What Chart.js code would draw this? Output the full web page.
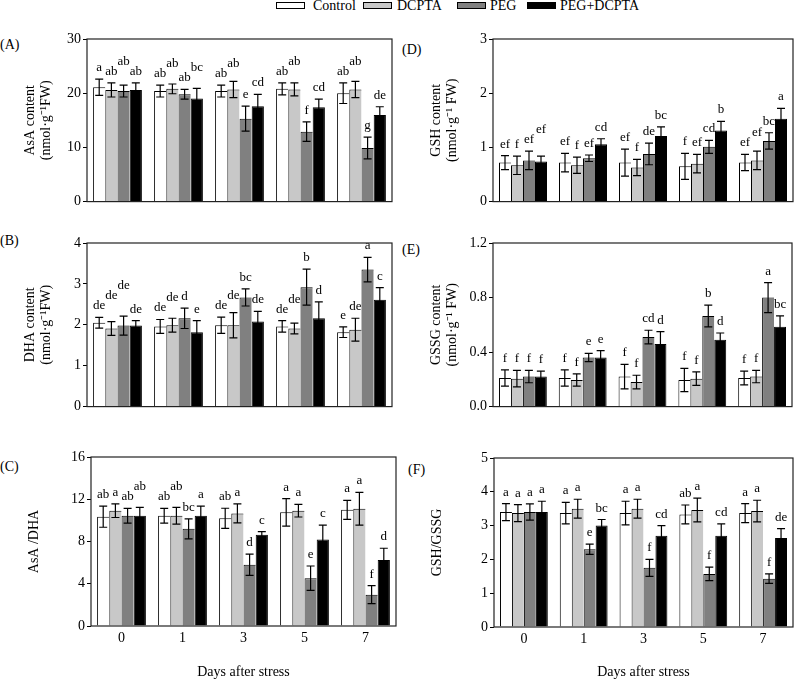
<!DOCTYPE html>
<html><head><meta charset="utf-8">
<script src="https://cdn.jsdelivr.net/npm/chart.js@4.4.1/dist/chart.umd.min.js"></script>
<style>
body{margin:0;background:#fff;width:799px;height:681px;position:relative;overflow:hidden;font-family:"Liberation Serif","Times New Roman",serif;color:#000}
canvas{position:absolute}
.lab{position:absolute;font-size:14px;line-height:14px;white-space:nowrap}
.lg{position:absolute;top:2px;width:27px;height:5px;border:1px solid #000}
</style></head><body>
<div class="lg" style="left:276px;background:#ffffff"></div><div class="lab" style="left:313px;top:-1px">Control</div>
<div class="lg" style="left:363px;background:#c8c8c8"></div><div class="lab" style="left:397px;top:-1px">DCPTA</div>
<div class="lg" style="left:457px;background:#808080"></div><div class="lab" style="left:490px;top:-1px">PEG</div>
<div class="lg" style="left:527px;background:#000000"></div><div class="lab" style="left:560px;top:-1px">PEG+DCPTA</div>
<div class="lab" style="left:0px;top:38px">(A)</div>
<div class="lab" style="left:0px;top:234px">(B)</div>
<div class="lab" style="left:0px;top:460px">(C)</div>
<div class="lab" style="left:402px;top:43px">(D)</div>
<div class="lab" style="left:402px;top:243px">(E)</div>
<div class="lab" style="left:408px;top:463px">(F)</div>
<script>
// ---- data ----
const days = ['0','1','3','5','7'];
const seriesNames = ['Control','DCPTA','PEG','PEG+DCPTA'];

// (A) AsA content
const asaMean = [[21.1,20.4,20.4,20.8,20.0],[20.6,20.8,20.7,20.7,20.7],[20.4,19.8,15.3,12.9,9.9],[20.6,19.0,17.6,17.4,16.0]];
const asaErr  = [[1.5,1.1,1.1,1.1,1.9],[1.3,0.9,1.5,1.2,1.5],[1.1,0.9,2.3,1.8,2.0],[1.3,1.9,2.2,1.5,1.5]];
const asaSig  = [['a','ab','ab','ab','ab'],['ab','ab','ab','ab','ab'],['ab','ab','e','f','g'],['ab','bc','cd','cd','de']];
// (B) DHA content
const dhaMean = [[2.05,1.96,1.99,1.96,1.82],[1.91,1.99,1.99,1.91,1.88],[1.98,2.16,2.67,2.92,3.35],[1.98,1.82,2.08,2.16,2.61]];
const dhaErr  = [[0.13,0.17,0.2,0.14,0.13],[0.17,0.17,0.31,0.13,0.28],[0.23,0.25,0.21,0.44,0.3],[0.12,0.28,0.25,0.4,0.3]];
const dhaSig  = [['de','de','de','de','e'],['de','de','de','de','de'],['de','d','bc','b','a'],['de','e','de','d','c']];
// (C) AsA/DHA
const ratioAMean = [[10.35,10.44,10.2,10.76,11.0],[10.92,10.44,10.66,10.92,11.1],[10.44,9.2,5.8,4.53,2.97],[10.44,10.44,8.64,8.2,6.26]];
const ratioAErr  = [[1.0,0.7,0.95,1.3,0.9],[0.65,0.8,0.9,0.6,1.55],[0.7,0.95,1.0,1.15,0.85],[0.8,0.9,0.3,1.35,1.1]];
const ratioASig  = [['ab','ab','ab','a','a'],['a','ab','a','a','a'],['ab','bc','d','e','f'],['ab','a','c','c','d']];
// (D) GSH content
const gshMean = [[0.72,0.72,0.72,0.65,0.72],[0.67,0.67,0.63,0.70,0.76],[0.76,0.80,0.88,1.01,1.12],[0.74,1.06,1.21,1.31,1.53]];
const gshErr  = [[0.13,0.17,0.25,0.24,0.15],[0.17,0.15,0.15,0.17,0.17],[0.17,0.06,0.2,0.12,0.15],[0.1,0.1,0.17,0.17,0.19]];
const gshSig  = [['ef','ef','ef','f','ef'],['f','f','f','ef','ef'],['ef','ef','de','cd','bc'],['ef','cd','bc','b','a']];
// (E) GSSG content
const gssgMean = [[0.21,0.21,0.22,0.195,0.21],[0.205,0.195,0.18,0.205,0.22],[0.22,0.36,0.51,0.665,0.80],[0.22,0.36,0.46,0.49,0.585]];
const gssgErr  = [[0.06,0.06,0.09,0.085,0.05],[0.06,0.045,0.05,0.05,0.045],[0.045,0.03,0.05,0.08,0.11],[0.04,0.05,0.09,0.05,0.08]];
const gssgSig  = [['f','f','f','f','f'],['f','f','f','f','f'],['f','e','cd','b','a'],['f','e','d','d','bc']];
// (F) GSH/GSSG
const ratioGMean = [[3.40,3.37,3.37,3.33,3.37],[3.37,3.50,3.50,3.46,3.43],[3.40,2.30,1.75,1.57,1.43],[3.40,3.00,2.70,2.70,2.63]];
const ratioGErr  = [[0.25,0.32,0.35,0.28,0.28],[0.25,0.28,0.28,0.35,0.32],[0.24,0.15,0.25,0.2,0.14],[0.32,0.18,0.3,0.35,0.28]];
const ratioGSig  = [['a','a','a','ab','a'],['a','a','a','a','a'],['a','e','f','f','f'],['a','bc','cd','cd','de']];

// ---- styles ----
const seriesColors = ['#ffffff','#c8c8c8','#808080','#000000'];
const FONT = '"Liberation Serif","Times New Roman",serif';
Chart.defaults.font.family = FONT;
Chart.defaults.color = '#000';

const errLetterPlugin = {
  id: 'errLetters',
  afterDatasetsDraw(chart, args, opts) {
    const ctx = chart.ctx, y = chart.scales.y;
    const errs = opts.errors, sigs = opts.letters;
    ctx.save();
    ctx.strokeStyle = '#000'; ctx.lineWidth = 1.2;
    const tops = [];
    chart.data.datasets.forEach((ds, i) => {
      tops[i] = [];
      chart.getDatasetMeta(i).data.forEach((bar, j) => {
        const v = ds.data[j], e = errs[i][j];
        const yt = y.getPixelForValue(v + e), yb = y.getPixelForValue(v - e);
        const x = bar.x;
        ctx.beginPath();
        ctx.moveTo(x, yt); ctx.lineTo(x, yb);
        ctx.moveTo(x - 4, yt); ctx.lineTo(x + 4, yt);
        ctx.moveTo(x - 4, yb); ctx.lineTo(x + 4, yb);
        ctx.stroke();
        tops[i][j] = {x, yt};
      });
    });
    ctx.font = '13px ' + FONT;
    ctx.fillStyle = '#000'; ctx.textAlign = 'center'; ctx.textBaseline = 'alphabetic';
    for (let j = 0; j < chart.data.labels.length; j++) {
      let prev = null;
      for (let i = 0; i < chart.data.datasets.length; i++) {
        const t = tops[i][j], s = sigs[i][j];
        const w = ctx.measureText(s).width;
        let yy = t.yt - 8;
        if (prev && (t.x - w / 2) < prev.r + 2 && Math.abs(yy - prev.y) < 10) yy = prev.y - 10;
        ctx.fillText(s, t.x, yy);
        prev = {r: t.x + w / 2, y: yy};
      }
    }
    const a = chart.chartArea;
    ctx.lineWidth = 1.2; ctx.strokeStyle = '#222';
    ctx.strokeRect(a.left, a.top, a.right - a.left, a.bottom - a.top);
    ctx.restore();
  }
};

const panels = [
  {mean: asaMean, err: asaErr, sig: asaSig, max: 30, step: 10, title: ['AsA content','(nmol·g⁻¹FW)'], box: {l:87,r:392,t:39,b:208}, bottom:false},
  {mean: dhaMean, err: dhaErr, sig: dhaSig, max: 4, step: 1, title: ['DHA content','(nmol·g⁻¹FW)'], box: {l:87,r:392,t:243,b:413}, bottom:false},
  {mean: ratioAMean, err: ratioAErr, sig: ratioASig, max: 16, step: 4, title: 'AsA /DHA', box: {l:91,r:396,t:457,b:626}, bottom:true},
  {mean: gshMean, err: gshErr, sig: gshSig, max: 3, step: 1, title: ['GSH content','(nmol·g⁻¹ FW)'], box: {l:493,r:793,t:39,b:208}, bottom:false},
  {mean: gssgMean, err: gssgErr, sig: gssgSig, max: 1.2, step: 0.4, title: ['GSSG content','(nmol·g⁻¹ FW)'], box: {l:493,r:792,t:243,b:413}, bottom:false, dec:1},
  {mean: ratioGMean, err: ratioGErr, sig: ratioGSig, max: 5, step: 1, title: 'GSH/GSSG', box: {l:494,r:793,t:458,b:627}, bottom:true}
];

panels.forEach(p => {
  const cv = document.createElement('canvas');
  const YW = 75, PT = 14, PR = 6;
  const L = p.box.l - YW, T = p.box.t - PT;
  const W = p.box.r + PR - L;
  const BH = p.bottom ? (681 - p.box.b) : 4;
  const H = p.box.b + BH - T;
  cv.width = W; cv.height = H;
  cv.style.left = L + 'px'; cv.style.top = T + 'px';
  cv.style.width = W + 'px'; cv.style.height = H + 'px';
  document.body.appendChild(cv);
  new Chart(cv, {
    type: 'bar',
    data: {
      labels: days,
      datasets: seriesNames.map((n, i) => ({
        label: n, data: p.mean[i], backgroundColor: seriesColors[i], borderColor: '#000',
        borderWidth: {top: 1, left: 1, bottom: 1, right: i === 3 ? 1 : 0},
        categoryPercentage: 0.8, barPercentage: 1
      }))
    },
    options: {
      responsive: false, animation: false, devicePixelRatio: 1,
      layout: {padding: {left: 0, right: PR, top: PT, bottom: 0}},
      plugins: {legend: {display: false}, tooltip: {enabled: false}, errLetters: {errors: p.err, letters: p.sig}},
      scales: {
        x: {
          grid: {display: false, drawTicks: false}, border: {display: false},
          ticks: {display: p.bottom, color: '#000', font: {size: 14}, padding: 4},
          title: {display: p.bottom, text: 'Days after stress', color: '#000', font: {size: 14, lineHeight: 1}, padding: {top: 0, bottom: 2}},
          afterFit(s) { s.height = BH; }
        },
        y: {
          min: 0, max: p.max,
          ticks: {stepSize: p.step, color: '#000', font: {size: 14}, padding: 2,
                  callback: v => p.dec ? Number(v).toFixed(p.dec) : v},
          grid: {drawOnChartArea: false, drawTicks: true, tickLength: 4, color: '#000', lineWidth: 1},
          border: {display: false},
          title: {display: true, text: p.title, color: '#000', font: {size: 14, lineHeight: 1.15}, padding: {top: 10, bottom: 0}},
          afterFit(s) { s.width = YW; }
        }
      }
    },
    plugins: [errLetterPlugin]
  });
});
</script>
</body></html>
